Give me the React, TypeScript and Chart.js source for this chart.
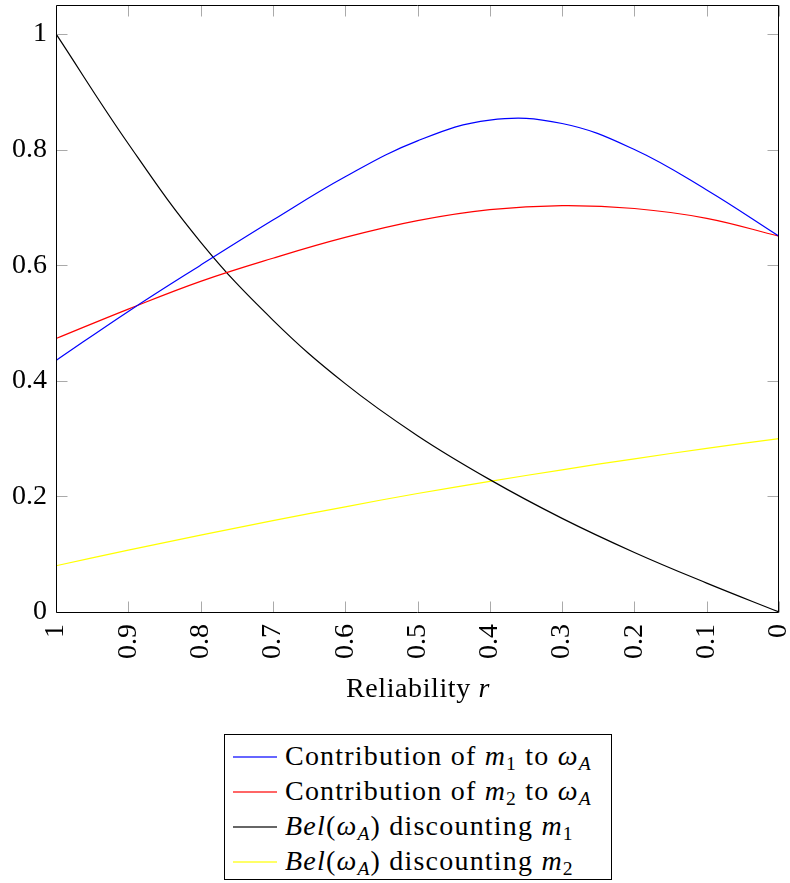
import React, { useEffect, useRef } from "react";
import { Chart, registerables } from "chart.js";

Chart.register(...registerables);

// ---------- data ----------
const reliability = [1, 0.9, 0.8, 0.7, 0.6, 0.5, 0.4, 0.3, 0.2, 0.1, 0];
const contribM1 = [0.435, 0.52, 0.6, 0.678, 0.753, 0.815, 0.851, 0.845, 0.8, 0.73, 0.65];
const contribM2 = [0.473, 0.524, 0.572, 0.612, 0.648, 0.677, 0.696, 0.703, 0.698, 0.681, 0.65];
const belDiscM1 = [1.0, 0.81, 0.64, 0.505, 0.395, 0.305, 0.229, 0.162, 0.103, 0.05, 0];
const belDiscM2 = [0.08, 0.107, 0.133, 0.158, 0.182, 0.205, 0.226, 0.246, 0.265, 0.283, 0.3];

const xTickValues = [1, 0.9, 0.8, 0.7, 0.6, 0.5, 0.4, 0.3, 0.2, 0.1, 0];
const xTickLabels = ["1", "0.9", "0.8", "0.7", "0.6", "0.5", "0.4", "0.3", "0.2", "0.1", "0"];
const yTickValues = [0, 0.2, 0.4, 0.6, 0.8, 1];
const yTickLabels = ["0", "0.2", "0.4", "0.6", "0.8", "1"];

const seriesColors = ["#0000ff", "#ff0000", "#000000", "#ffff00"];

const FONT = "'Liberation Serif', serif";
const FS = 28;

const toPoints = (ys: number[]) => reliability.map((x, i) => ({ x, y: ys[i] }));

const framePlugin = {
  id: "pgfFrame",
  afterDatasetsDraw(chart: any) {
    const { ctx, chartArea: a, scales } = chart;
    const L = Math.round(a.left) + 0.5;
    const R = Math.round(a.right) - 0.5;
    const T = Math.round(a.top) + 0.5;
    const B = Math.round(a.bottom) + 0.5;
    ctx.save();
    ctx.strokeStyle = "#aaaaaa";
    ctx.lineWidth = 1;
    ctx.beginPath();
    xTickValues.forEach((v) => {
      const x = Math.round(scales.x.getPixelForValue(v)) + 0.5;
      ctx.moveTo(x, B);
      ctx.lineTo(x, B - 11);
      ctx.moveTo(x, T);
      ctx.lineTo(x, T + 11);
    });
    yTickValues.forEach((v) => {
      const y = Math.round(scales.y.getPixelForValue(v)) + 0.5;
      ctx.moveTo(L, y);
      ctx.lineTo(L + 11, y);
      ctx.moveTo(R, y);
      ctx.lineTo(R - 11, y);
    });
    ctx.stroke();
    ctx.strokeStyle = "#000000";
    ctx.beginPath();
    ctx.rect(L, T, R - L, B - T);
    ctx.stroke();
    ctx.restore();
  },
};

function Sub({ children }: { children: React.ReactNode }) {
  return (
    <span style={{ fontSize: "0.7em", position: "relative", top: "0.28em", fontStyle: "italic" }}>
      {children}
    </span>
  );
}

function SubUp({ children }: { children: React.ReactNode }) {
  return <span style={{ fontSize: "0.7em", position: "relative", top: "0.28em" }}>{children}</span>;
}

const legendItems: React.ReactNode[] = [
  <>
    Contribution of <i>m</i>
    <SubUp>1</SubUp> to <i>ω</i>
    <Sub>A</Sub>
  </>,
  <>
    Contribution of <i>m</i>
    <SubUp>2</SubUp> to <i>ω</i>
    <Sub>A</Sub>
  </>,
  <>
    <i>Bel</i>(<i>ω</i>
    <Sub>A</Sub>) discounting <i>m</i>
    <SubUp>1</SubUp>
  </>,
  <>
    <i>Bel</i>(<i>ω</i>
    <Sub>A</Sub>) discounting <i>m</i>
    <SubUp>2</SubUp>
  </>,
];

export default function App() {
  const canvasRef = useRef<HTMLCanvasElement | null>(null);

  useEffect(() => {
    if (!canvasRef.current) return;
    const chart = new Chart(canvasRef.current, {
      type: "line",
      data: {
        datasets: [contribM1, contribM2, belDiscM1, belDiscM2].map((ys, i) => ({
          data: toPoints(ys),
          borderColor: seriesColors[i],
          borderWidth: 1.2,
          pointRadius: 0,
          fill: false,
          tension: 0.4,
        })),
      },
      options: {
        animation: false,
        responsive: false,
        devicePixelRatio: 1,
        layout: { padding: { top: 5, right: 11, left: 0, bottom: 0 } },
        plugins: { legend: { display: false }, tooltip: { enabled: false } },
        scales: {
          x: {
            type: "linear",
            reverse: true,
            min: 0,
            max: 1,
            grid: { display: false, drawTicks: false },
            border: { display: false },
            afterBuildTicks: (s: any) => {
              s.ticks = xTickValues.map((v) => ({ value: v }));
            },
            afterFit: (s: any) => {
              s.height = 108;
              s.paddingLeft = 0;
              s.paddingRight = 0;
            },
            ticks: {
              autoSkip: false,
              minRotation: 90,
              maxRotation: 90,
              padding: 12,
              color: "#000",
              font: { family: FONT, size: FS },
              callback: (v: any) => xTickLabels[xTickValues.findIndex((t) => Math.abs(t - v) < 1e-9)],
            },
          },
          y: {
            type: "linear",
            min: 0,
            max: 1.05,
            grid: { display: false, drawTicks: false },
            border: { display: false },
            afterBuildTicks: (s: any) => {
              s.ticks = yTickValues.map((v) => ({ value: v }));
            },
            afterFit: (s: any) => {
              s.width = 56;
              s.paddingTop = 0;
              s.paddingBottom = 0;
            },
            ticks: {
              padding: 9,
              color: "#000",
              font: { family: FONT, size: FS },
              callback: (v: any) => yTickLabels[yTickValues.findIndex((t) => Math.abs(t - v) < 1e-9)],
            },
          },
        },
      },
      plugins: [framePlugin],
    } as any);
    return () => chart.destroy();
  }, []);

  return (
    <div
      style={{
        position: "absolute",
        left: 0,
        top: 0,
        width: 790,
        height: 883,
        background: "#fff",
        fontFamily: FONT,
        fontSize: FS,
        color: "#000",
      }}
    >
      <canvas ref={canvasRef} width={790} height={720} style={{ position: "absolute", left: 0, top: 0 }} />
      <div
        style={{
          position: "absolute",
          left: 0,
          width: 836,
          top: 674,
          lineHeight: "28px",
          textAlign: "center",
          whiteSpace: "nowrap",
          letterSpacing: "0.6px",
        }}
      >
        Reliability <i>r</i>
      </div>
      <div
        style={{
          position: "absolute",
          left: 224,
          top: 734,
          width: 388,
          height: 146,
          boxSizing: "border-box",
          border: "1px solid #000",
        }}
      >
        {legendItems.map((item, i) => (
          <React.Fragment key={i}>
            <div
              style={{
                position: "absolute",
                left: 8,
                top: 21 + 35 * i,
                width: 44,
                height: 2,
                background: seriesColors[i],
                opacity: 0.6,
              }}
            />
            <div
              style={{
                position: "absolute",
                left: 60,
                top: 3 + 35 * i,
                lineHeight: "35px",
                whiteSpace: "nowrap",
                letterSpacing: "1.2px",
              }}
            >
              {item}
            </div>
          </React.Fragment>
        ))}
      </div>
    </div>
  );
}
